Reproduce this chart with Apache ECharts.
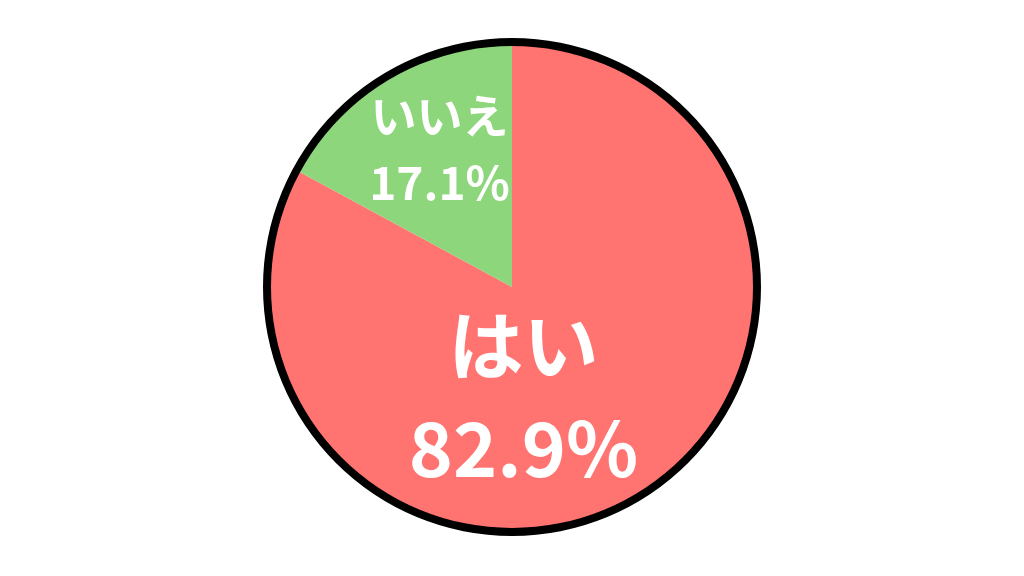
<!DOCTYPE html>
<html>
<head>
<meta charset="utf-8">
<script src="https://cdn.jsdelivr.net/npm/echarts@6/dist/echarts.min.js"></script>
<style>
html, body { margin: 0; padding: 0; background: #fff; }
#main { width: 1024px; height: 576px; }
</style>
</head>
<body>
<div id="main"></div>
<script>
// 円グラフ
var names = ['はい', 'いいえ'];
var values = [82.9, 17.1];
var colors = ['#FF7371', '#8DD67B'];
var labelSizes = [75, 46];
var labelGaps = [103, 67];
var labelOffsets = [[-52, 3], [-9, -31]];

var chart = echarts.init(document.getElementById('main'));

var pieData = names.map(function (n, i) {
    return {
        name: n,
        value: values[i],
        itemStyle: { color: colors[i] },
        label: {
            offset: labelOffsets[i],
            fontSize: labelSizes[i],
            lineHeight: labelGaps[i]
        }
    };
});

var option = {
    backgroundColor: '#ffffff',
    animation: false,
    series: [{
        type: 'pie',
        center: [512, 287],
        radius: [0, 242],
        startAngle: 90,
        clockwise: true,
        avoidLabelOverlap: false,
        label: {
            show: true,
            position: 'inside',
            color: '#ffffff',
            fontFamily: 'Noto Sans CJK JP',
            fontWeight: 'bold',
            formatter: function (p) {
                return p.name + '\n' + p.value.toFixed(1) + '%';
            }
        },
        labelLine: { show: false },
        itemStyle: { borderWidth: 0 },
        emphasis: { disabled: true },
        data: pieData
    }, {
        // 外枠
        type: 'pie',
        silent: true,
        center: [512, 287],
        radius: [241, 249],
        label: { show: false },
        labelLine: { show: false },
        itemStyle: { color: '#000000', borderWidth: 0 },
        data: [{ value: 1, name: '' }]
    }]
};
chart.setOption(option);
</script>
</body>
</html>
